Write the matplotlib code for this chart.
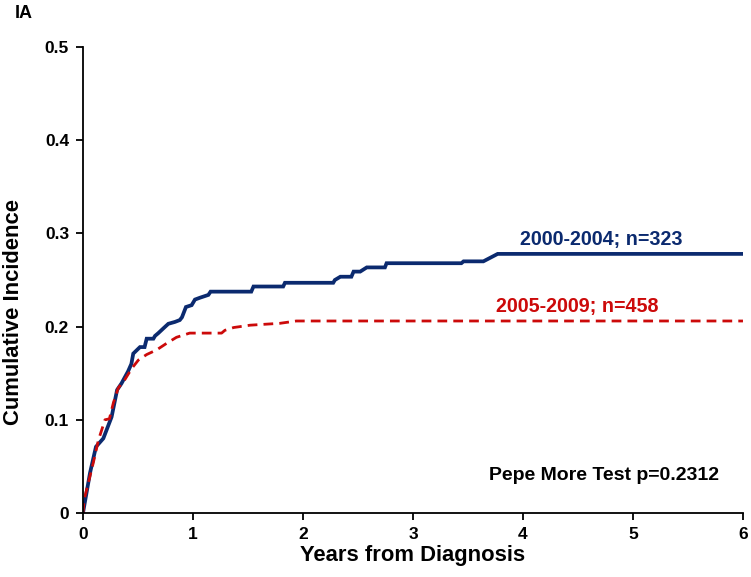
import matplotlib
matplotlib.use("Agg")
import matplotlib.pyplot as plt

# Data
years_a = [0, 0.064, 0.118, 0.185, 0.26, 0.31, 0.35, 0.41, 0.44, 0.457, 0.518, 0.56, 0.579, 0.64, 0.655,
           0.685, 0.73, 0.776, 0.836, 0.88, 0.90, 0.936, 0.988, 1.018, 1.064, 1.14, 1.16, 1.23, 1.53, 1.55,
           1.82, 1.836, 2.275, 2.29, 2.34, 2.44, 2.46, 2.52, 2.58, 2.745, 2.76, 3.44, 3.46, 3.64, 3.77, 6.0]
inc_a = [0, 0.043, 0.071, 0.080, 0.103, 0.132, 0.139, 0.152, 0.160, 0.171, 0.178, 0.178, 0.187, 0.187, 0.190,
         0.193, 0.198, 0.203, 0.205, 0.207, 0.210, 0.221, 0.223, 0.229, 0.231, 0.234, 0.2375, 0.2375, 0.2375, 0.243,
         0.243, 0.247, 0.247, 0.250, 0.2535, 0.2535, 0.259, 0.259, 0.2635, 0.2635, 0.268, 0.268, 0.270, 0.270, 0.278, 0.278]

years_b = [0, 0.01, 0.094, 0.14, 0.2, 0.24, 0.276, 0.32, 0.38, 0.443, 0.503, 0.579, 0.67, 0.76, 0.85,
           0.97, 1.26, 1.29, 1.37, 1.52, 1.79, 1.94, 6.0]
inc_b = [0, 0.014, 0.054, 0.078, 0.10, 0.101, 0.118, 0.134, 0.143, 0.155, 0.164, 0.170, 0.175, 0.182, 0.1885,
         0.193, 0.193, 0.196, 0.199, 0.2015, 0.2035, 0.206, 0.206]

label_a = "2000-2004; n=323"
label_b = "2005-2009; n=458"
x_ticks = [0, 1, 2, 3, 4, 5, 6]
y_ticks = [0, 0.1, 0.2, 0.3, 0.4, 0.5]
y_tick_labels = ["0", "0.1", "0.2", "0.3", "0.4", "0.5"]

plt.rcParams['font.family'] = ['Liberation Sans', 'DejaVu Sans']
plt.rcParams['font.weight'] = 'bold'

blue = "#0B2A6F"
red = "#CC0A0A"

fig = plt.figure(figsize=(7.51, 5.77), dpi=100)
ax = fig.add_axes([0.1105, 0.111, 0.8788, 0.8075])

ax.plot(years_a, inc_a, color=blue, lw=2.7, solid_joinstyle='miter')
ax.plot(years_b, inc_b, color=red, lw=2.0, dashes=(3.5, 2.2))

ax.set_xlim(0, 6)
ax.set_ylim(0, 0.5)
ax.set_xticks(x_ticks)
ax.set_xticklabels([str(t) for t in x_ticks])
ax.set_yticks(y_ticks)
ax.set_yticklabels(y_tick_labels)
for s in ['top', 'right']:
    ax.spines[s].set_visible(False)
for s in ['left', 'bottom']:
    ax.spines[s].set_linewidth(1.3)
ax.tick_params(direction='out', length=5, width=1.3, labelsize=12.5, pad=5)
for lab in ax.get_xticklabels() + ax.get_yticklabels():
    lab.set_fontweight('bold')

ax.set_xlabel("Years from Diagnosis", fontsize=15.8, fontweight='bold')
ax.xaxis.set_label_coords(0.5, -0.0694)
ax.set_ylabel("Cumulative Incidence", fontsize=15.8, fontweight='bold')
ax.yaxis.set_label_coords(-0.089, 0.431)

ax.text(4.71, 0.293, label_a, color=blue, fontsize=14.2, fontweight='bold', ha='center', va='center')
ax.text(4.49, 0.222, label_b, color=red, fontsize=14.2, fontweight='bold', ha='center', va='center')
ax.text(4.74, 0.040, "Pepe More Test p=0.2312", color='black', fontsize=14, fontweight='bold',
        ha='center', va='center')
fig.text(24 / 751, 1 - 14 / 577, "IA", fontsize=13, fontweight='bold', ha='center', va='center')

fig.savefig("out.png", dpi=100)
